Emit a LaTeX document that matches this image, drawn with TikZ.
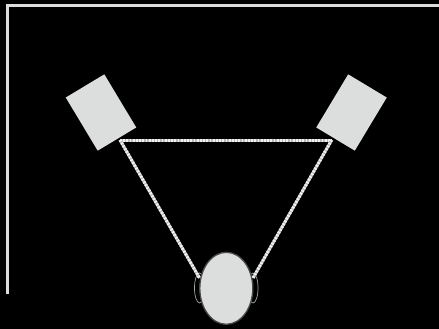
\documentclass[tikz,border=0pt]{standalone}
\usepackage{tikz}
\usetikzlibrary{positioning,shapes.geometric}
\definecolor{panel}{HTML}{DCDEDD}
\definecolor{rim}{HTML}{4A4A4A}
\tikzset{
  wall/.style={draw=panel,line width=2.6pt},
  speaker/.style={draw=none,fill=panel,minimum width=45pt,minimum height=62pt,
                  inner sep=0pt},
  headnode/.style={ellipse,draw=rim,line width=1.3pt,fill=panel,
                   minimum width=53pt,minimum height=72pt,inner sep=0pt},
  earnode/.style={ellipse,draw=gray!70,line width=0.7pt,fill=black,
                  minimum width=10pt,minimum height=30pt,inner sep=0pt},
  beambase/.style={draw=gray!55,line width=3pt},
  beam/.style={draw=white!90!gray,line width=3pt,dash pattern=on 1.8pt off 1.4pt},
}

\begin{document}
\begin{tikzpicture}[x=1pt,y=-1pt]
  \fill[black] (0,0) rectangle (439,329);
  \useasboundingbox (0,0) rectangle (439,329);
  % room corner
  \draw[wall] (7.5,294) -- (7.5,5.5) -- (439,5.5);
  % speakers
  \node[speaker,rotate=31] (lspk) at (101,112.5) {};
  \node[speaker,rotate=-31] (rspk) at (351.5,112.5) {};
  % listener
  \node[earnode] (lear) at (199.5,288) {};
  \node[earnode] (rear) at (253,288) {};
  \node[headnode] (head) at (226.3,288.3) {};
  % triangle corners
  \coordinate (lv) at (120,140);
  \coordinate (rv) at (331.7,140);
  \coordinate (lh) at (199.5,278);
  \coordinate (rh) at (253,278);
  \foreach \a/\b in {lv/rv,lv/lh,rv/rh}{
    \draw[beambase] (\a) -- (\b);
    \draw[beam] (\a) -- (\b);
  }
\end{tikzpicture}
\end{document}
